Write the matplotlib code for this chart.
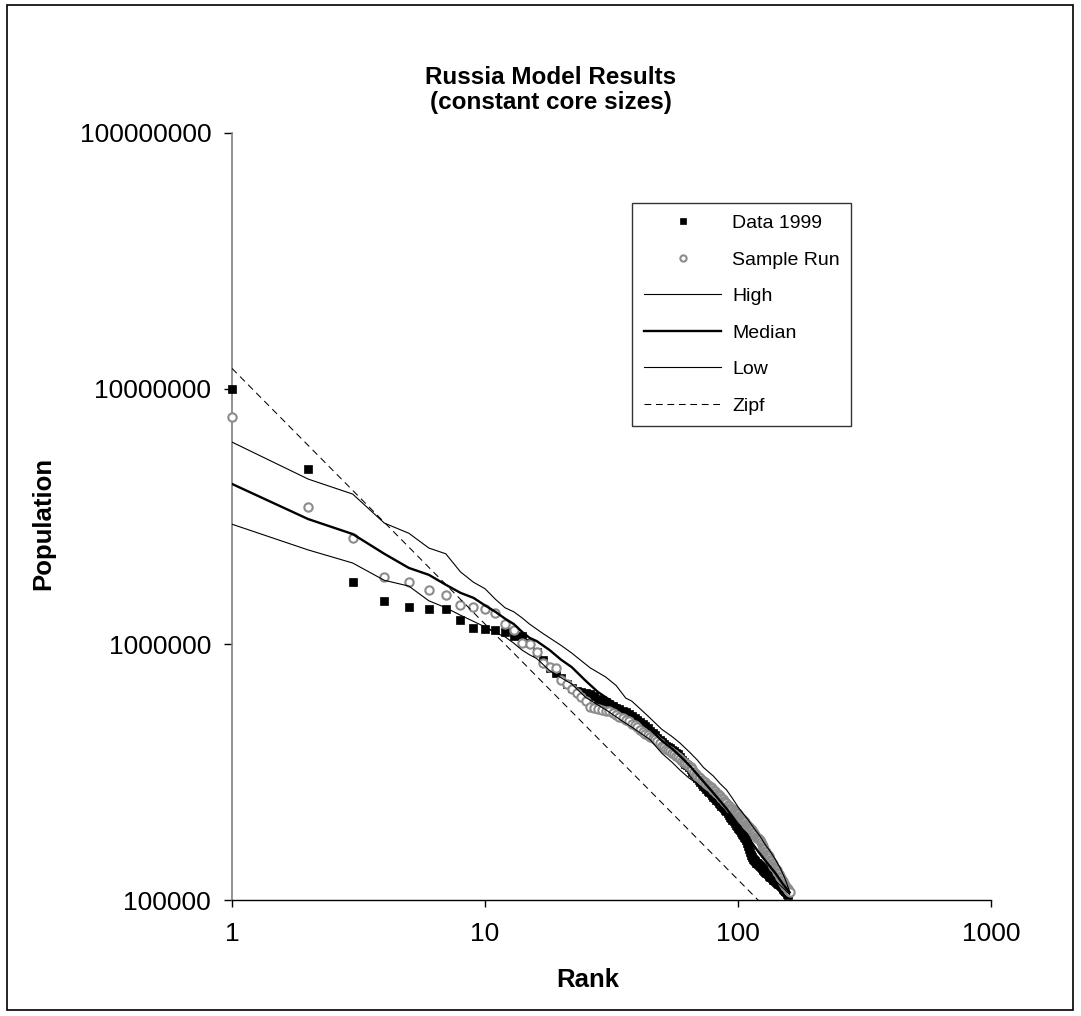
import matplotlib
matplotlib.use("Agg")
import matplotlib.pyplot as plt
from matplotlib.ticker import FixedLocator, FuncFormatter, NullLocator
from matplotlib.patches import Rectangle

plt.rcParams['font.family'] = ['Liberation Sans', 'DejaVu Sans']

# ---------------- data (populations in thousands) ----------------
data1999_k = [
    9950, 4850, 1750, 1480, 1400, 1380, 1370, 1240, 1160, 1150,
    1140, 1120, 1080, 1075, 1010, 930, 870, 810, 775, 740,
    700, 675, 655, 650, 648, 640, 630, 612, 604, 595,
    585, 572, 563, 557, 550, 545, 535, 524, 515, 507,
    498, 490, 480, 470, 460, 450, 441, 432, 422, 414,
    406, 400, 396, 392, 386, 381, 377, 371, 362, 352,
    347, 341, 336, 330, 324, 318, 312, 306, 300, 295,
    290, 285, 280, 276, 272, 268, 265, 261, 257, 253,
    250, 247, 244, 240, 237, 234, 231, 228, 225, 222,
    218, 215, 212, 209, 206, 203, 200, 197, 195, 192,
    190, 187, 184, 182, 179, 177, 174, 172, 167, 162,
    158, 154, 150, 147, 145, 143, 142, 140, 139, 138,
    137, 136, 135, 134, 132, 131, 130, 129, 128, 127,
    126, 125, 124, 123, 122.5, 122, 121, 120, 119.5, 119,
    118, 117.5, 117, 116, 115.5, 115, 114, 113, 112, 111,
    110, 109, 108.5, 108, 107, 106, 105,
]

sample_run_k = [
    7740, 3440, 2600, 1830, 1750, 1630, 1555, 1430, 1400, 1370,
    1330, 1200, 1140, 1010, 1005, 930, 845, 812, 808, 726,
    700, 670, 645, 622, 600, 570, 562, 557, 552, 550,
    547, 538, 530, 522, 515, 507, 500, 490, 482, 475,
    464, 454, 447, 440, 434, 430, 426, 420, 410, 400,
    396, 391, 386, 381, 377, 372, 366, 361, 356, 350,
    347, 343, 339, 335, 331, 326, 318, 310, 306, 302,
    299, 296, 292, 289, 285, 282, 279, 276, 273, 270,
    267, 263, 260, 257, 254, 251, 248, 245, 242, 239,
    236, 233, 230, 228, 226, 224, 222, 220, 218, 216,
    213, 211, 209, 207, 205, 203, 201, 199, 197, 195,
    193, 191, 189, 187, 185, 183, 180, 177, 175, 174,
    173, 172, 169, 166, 163, 160, 158, 156, 154, 152,
    150, 148, 146, 144, 142, 140, 138, 136, 134.5, 133,
    132, 131, 129, 127.5, 126, 124.5, 123, 121.5, 120, 118.5,
    117, 115.5, 114.5, 113, 112, 111, 110, 109, 108, 107,
]

high_rank = [1, 2, 3, 4, 5, 6, 7, 8, 9, 10, 11, 12, 13, 14, 15, 17, 20, 22, 26, 30,
             33, 36, 38, 41, 44, 50, 55, 59, 65, 69, 73, 80, 85, 90, 95, 101, 110,
             116, 122, 128, 134, 140, 147, 153, 160]
high_k = [6180, 4430, 3870, 2980, 2720, 2380, 2260, 1920, 1750, 1650, 1500, 1390, 1340,
          1270, 1200, 1100, 990, 925, 810, 745, 690, 616, 600, 560, 525, 465, 435, 411,
          375, 353, 330, 305, 285, 270, 250, 228, 205, 190, 178, 165, 155, 145, 133,
          122, 108]

median_rank = [1, 2, 3, 4, 5, 6, 7, 8, 9, 10, 11, 12, 13, 14, 15, 16, 18, 20, 22, 25,
               28, 32, 36, 40, 45, 50, 55, 60, 65, 70, 80, 90, 100, 110, 120, 130, 140,
               150, 160]
median_k = [4240, 3090, 2700, 2260, 1990, 1870, 1710, 1590, 1520, 1420, 1340, 1260, 1200,
            1120, 1060, 1030, 950, 870, 815, 720, 650, 595, 550, 512, 465, 420, 390, 360,
            332, 305, 262, 228, 198, 175, 155, 140, 128, 116, 107]

low_rank = [1, 2, 3, 4, 5, 6, 7, 8, 9, 10, 11, 12, 13, 14, 15, 16, 18, 20, 22, 25, 30,
            35, 38, 45, 50, 55, 59, 64, 69, 75, 80, 85, 90, 95, 100, 105, 110, 120,
            127, 134, 140, 147, 153, 160]
low_k = [2950, 2340, 2080, 1780, 1690, 1480, 1390, 1300, 1230, 1170, 1110, 1070, 1010,
         950, 910, 880, 790, 740, 700, 620, 555, 500, 475, 423, 375, 345, 322, 300, 285,
         265, 250, 232, 212, 197, 185, 170, 160, 143, 132, 124, 119, 114, 110, 105]

zipf_rank = [1, 125]
zipf_k = [12000, 96]

y_ticks = [100000, 1000000, 10000000, 100000000]
x_ticks = [1, 10, 100, 1000]

title_text = "Russia Model Results\n(constant core sizes)"
series_labels = ["Data 1999", "Sample Run", "High", "Median", "Low", "Zipf"]

# ---------------- figure ----------------
fig = plt.figure(figsize=(10.81, 10.16), dpi=100)
ax = fig.add_axes([232 / 1081, 1 - 900 / 1016, (991 - 232) / 1081, (900 - 133) / 1016])

to_pop = lambda vals: [v * 1000 for v in vals]

ranks_data = list(range(1, len(data1999_k) + 1))
ranks_sample = list(range(1, len(sample_run_k) + 1))

ax.plot(ranks_data, to_pop(data1999_k), linestyle='none', marker='s', markersize=6,
        markerfacecolor='black', markeredgecolor='black', markeredgewidth=0.5,
        label=series_labels[0], zorder=3, clip_on=False)
ax.plot(ranks_sample, to_pop(sample_run_k), linestyle='none', marker='o', markersize=6,
        markerfacecolor='white', markeredgecolor='#8c8c8c', markeredgewidth=1.5,
        label=series_labels[1], zorder=4, clip_on=False)
ax.plot(high_rank, to_pop(high_k), color='black', lw=0.8, label=series_labels[2], zorder=5)
ax.plot(median_rank, to_pop(median_k), color='black', lw=1.7, label=series_labels[3], zorder=5)
ax.plot(low_rank, to_pop(low_k), color='black', lw=0.8, label=series_labels[4], zorder=5)
ax.plot(zipf_rank, to_pop(zipf_k), color='black', lw=0.75, dashes=(6.5, 4.5),
        label=series_labels[5], zorder=5)

ax.set_xscale('log')
ax.set_yscale('log')
ax.set_xlim(1, 1000)
ax.set_ylim(100000, 100000000)

ax.xaxis.set_major_locator(FixedLocator(x_ticks))
ax.yaxis.set_major_locator(FixedLocator(y_ticks))
ax.xaxis.set_minor_locator(NullLocator())
ax.yaxis.set_minor_locator(NullLocator())
fmt = FuncFormatter(lambda v, p: f"{int(round(v))}")
ax.xaxis.set_major_formatter(fmt)
ax.yaxis.set_major_formatter(fmt)

ax.spines['top'].set_visible(False)
ax.spines['right'].set_visible(False)
ax.spines['left'].set_color('#808080')
ax.spines['left'].set_linewidth(1.2)
ax.spines['bottom'].set_color('black')
ax.spines['bottom'].set_linewidth(1.0)

ax.tick_params(axis='y', direction='out', length=6, width=1.0, colors='black',
               labelsize=19, pad=9)
ax.tick_params(axis='x', direction='out', length=5, width=1.0, colors='black',
               labelsize=19, pad=11)
for t in ax.yaxis.get_ticklines():
    t.set_color('#404040')

# titles and axis labels
fig.text(551 / 1081, 1 - 90 / 1016, title_text, ha='center', va='center',
         fontsize=17.5, fontweight='bold', linespacing=1.1)
fig.text(43 / 1081, 1 - 523 / 1016, "Population", ha='center', va='center',
         rotation=90, fontsize=18.5, fontweight='bold')
fig.text(588 / 1081, 1 - 980 / 1016, "Rank", ha='center', va='center',
         fontsize=18.5, fontweight='bold')

leg = ax.legend(loc='upper left', bbox_to_anchor=((632 - 232) / 759, (900 - 203) / 767),
                borderaxespad=0, frameon=True, fancybox=False, edgecolor='black',
                fontsize=14, handlelength=4.0, handletextpad=0.55, labelspacing=0.97,
                borderpad=0.6, markerscale=0.75)
leg.get_frame().set_linewidth(1.0)

# outer chart border
fig.patches.append(Rectangle((7 / 1081, 6 / 1016), (1073 - 7) / 1081, (1010 - 5) / 1016,
                             transform=fig.transFigure, fill=False, edgecolor='black',
                             linewidth=1.2))

fig.savefig("out.png", dpi=100)
